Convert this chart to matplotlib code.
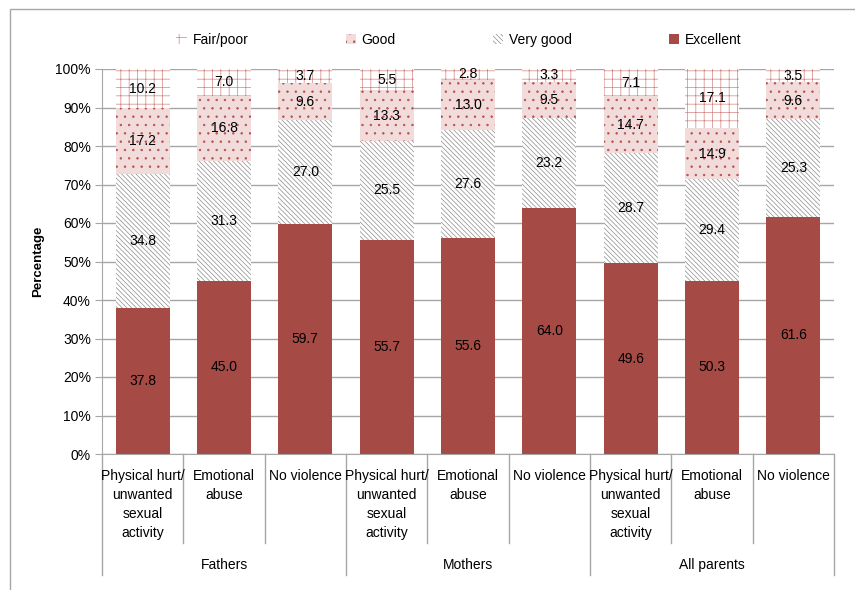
import matplotlib
matplotlib.use("Agg")
import matplotlib.pyplot as plt
import numpy as np
from matplotlib.patches import Rectangle
from matplotlib.ticker import PercentFormatter

plt.rcParams["font.family"] = ["Liberation Sans", "DejaVu Sans"]
plt.rcParams["hatch.linewidth"] = 0.5

groups = ["Fathers", "Mothers", "All parents"]
exposures = ["Physical hurt/\nunwanted\nsexual\nactivity", "Emotional\nabuse", "No violence"]

# reported values per column, in order Fathers x3, Mothers x3, All parents x3
excellent = [37.8, 45.0, 59.7, 55.7, 55.6, 64.0, 49.6, 50.3, 61.6]
very_good = [34.8, 31.3, 27.0, 25.5, 27.6, 23.2, 28.7, 29.4, 25.3]
good = [17.2, 16.8, 9.6, 13.3, 13.0, 9.5, 14.7, 14.9, 9.6]
fair_poor = [10.2, 7.0, 3.7, 5.5, 2.8, 3.3, 7.1, 17.1, 3.5]

series = [
    ("Excellent", excellent, dict(color="#A54A44", linewidth=0)),
    ("Very good", very_good, dict(facecolor="white", edgecolor="#8C8C8C",
                                  hatch="\\" * 7, linewidth=0)),
    ("Good", good, dict(facecolor="#F2DCDB", edgecolor="#B5504B",
                        hatch="..", linewidth=0)),
    ("Fair/poor", fair_poor, dict(facecolor="white", edgecolor="#D4837F",
                                  hatch="++", linewidth=0)),
]

FS = 10
W, H = 855, 590
fig = plt.figure(figsize=(W / 100, H / 100), dpi=100)
ax = fig.add_axes([102 / W, 1 - 454 / H, 732 / W, 385 / H])

x = np.arange(len(excellent))
totals = np.sum([excellent, very_good, good, fair_poor], axis=0)
bottom = np.zeros(len(x))
handles = {}
for name, vals, style in series:
    share = np.array(vals) / totals * 100  # 100% stacked columns
    bars = ax.bar(x, share, width=0.665, bottom=bottom, label=name, **style)
    handles[name] = bars
    for xi, b, h, v in zip(x, bottom, share, vals):
        ax.text(xi, b + h / 2, f"{v:.1f}", ha="center", va="center", fontsize=FS)
    bottom += share

ax.set_xlim(-0.5, len(x) - 0.5)
ax.set_ylim(0, 100)
ax.set_yticks(np.arange(0, 101, 10))
ax.yaxis.set_major_formatter(PercentFormatter(decimals=0))
ax.tick_params(axis="y", length=5, color="#A6A6A6", labelsize=FS, pad=3)
ax.set_xticks([])
ax.grid(axis="y", color="#A6A6A6", linewidth=1)
ax.set_axisbelow(True)
for side in ["top", "right"]:
    ax.spines[side].set_visible(False)
for side in ["left", "bottom"]:
    ax.spines[side].set_color("#A6A6A6")
ax.set_ylabel("Percentage", fontsize=FS - 0.5, fontweight="bold", labelpad=8)

# two-level category axis
trans = ax.get_xaxis_transform()
ax_h = 385
for i in range(len(x) + 1):
    edge = i - 0.5
    depth = 121 if i % 3 == 0 else 89
    ax.plot([edge, edge], [0, -depth / ax_h], transform=trans, clip_on=False,
            color="#A6A6A6", linewidth=1)
for i, xi in enumerate(x):
    ax.text(xi, -15 / ax_h, exposures[i % 3], transform=trans, ha="center",
            va="top", fontsize=FS, linespacing=1.45)
for g, name in enumerate(groups):
    ax.text(3 * g + 1, -111 / ax_h, name, transform=trans, ha="center",
            va="center", fontsize=FS)

order = ["Fair/poor", "Good", "Very good", "Excellent"]
fig.legend([handles[n] for n in order], order, loc="center",
           bbox_to_anchor=(459 / W, 1 - 40 / H), ncol=4, frameon=False,
           fontsize=FS, handlelength=0.75, handleheight=0.75,
           handletextpad=0.4, columnspacing=7.0)

fig.patches.append(Rectangle((10 / W, -0.1), 1.0, 1.1 - 9 / H,
                             transform=fig.transFigure, fill=False,
                             edgecolor="#A6A6A6", linewidth=1))

fig.savefig("out.png", dpi=100)
